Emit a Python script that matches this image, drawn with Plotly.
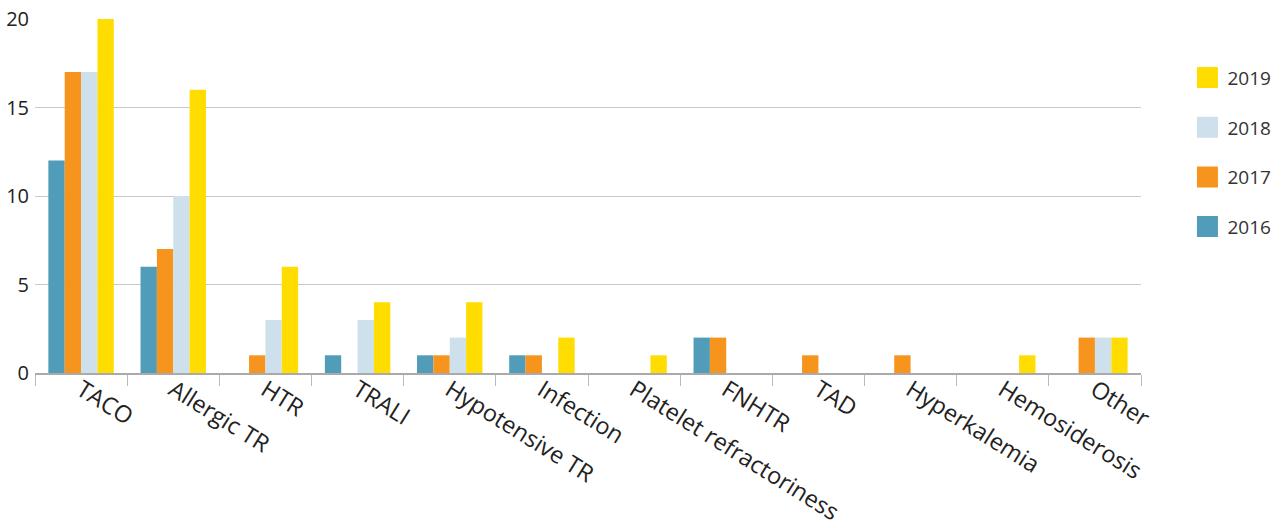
import plotly.graph_objects as go

categories = ["TACO", "Allergic TR", "HTR", "TRALI", "Hypotensive TR", "Infection",
              "Platelet refractoriness", "FNHTR", "TAD", "Hyperkalemia",
              "Hemosiderosis", "Other"]

y2016 = [12, 6, 0, 1, 1, 1, 0, 2, 0, 0, 0, 0]
y2017 = [17, 7, 1, 0, 1, 1, 0, 2, 1, 1, 0, 2]
y2018 = [17, 10, 3, 3, 2, 0, 0, 0, 0, 0, 0, 2]
y2019 = [20, 16, 6, 4, 4, 2, 1, 0, 0, 0, 1, 2]

years = ["2016", "2017", "2018", "2019"]
series = [y2016, y2017, y2018, y2019]
colors = ["#519cb9", "#f7941e", "#cde0ec", "#ffdd00"]

FONT = "Open Sans"

fig = go.Figure()
for name, vals, col in zip(years, series, colors):
    fig.add_trace(go.Bar(
        x=categories, y=vals, name=name, showlegend=False,
        marker=dict(color=col, line=dict(width=0)),
    ))

# Larger square swatches for the legend entries, newest year on top
for name, col in zip(years[::-1], colors[::-1]):
    fig.add_trace(go.Scatter(
        x=[None], y=[None], mode="markers", name=name, legendgroup=name,
        marker=dict(symbol="square", size=16, color=col,
                    line=dict(color=col, width=5)),
    ))

fig.update_layout(
    width=1285, height=528,
    margin=dict(l=35, r=144, t=19, b=155, autoexpand=False),
    plot_bgcolor="white", paper_bgcolor="white",
    barmode="group", bargap=0.29, bargroupgap=0,
    font=dict(family=FONT, color="#222"),
    legend=dict(
        traceorder="grouped", tracegroupgap=22,
        x=1.042, xanchor="left", y=0.888, yanchor="top",
        font=dict(size=19, color="#333"),
        itemwidth=30,
    ),
)
fig.update_xaxes(
    type="category", tickangle=32, tickson="boundaries",
    ticks="outside", ticklen=11, tickcolor="#bbbbbb", tickwidth=1,
    showline=True, linecolor="#aaaaaa", linewidth=2,
    showgrid=False, tickfont=dict(size=23.5, color="#222"),
    automargin=False, ticklabelstandoff=-8,
)
fig.update_yaxes(
    range=[0, 20], tickvals=[0, 5, 10, 15, 20],
    showgrid=True, gridcolor="#c8c8c8", gridwidth=1,
    zeroline=False, showline=False, automargin=False,
    ticklabelstandoff=5, tickfont=dict(size=20, color="#222"),
)

fig.write_html("out.html")
